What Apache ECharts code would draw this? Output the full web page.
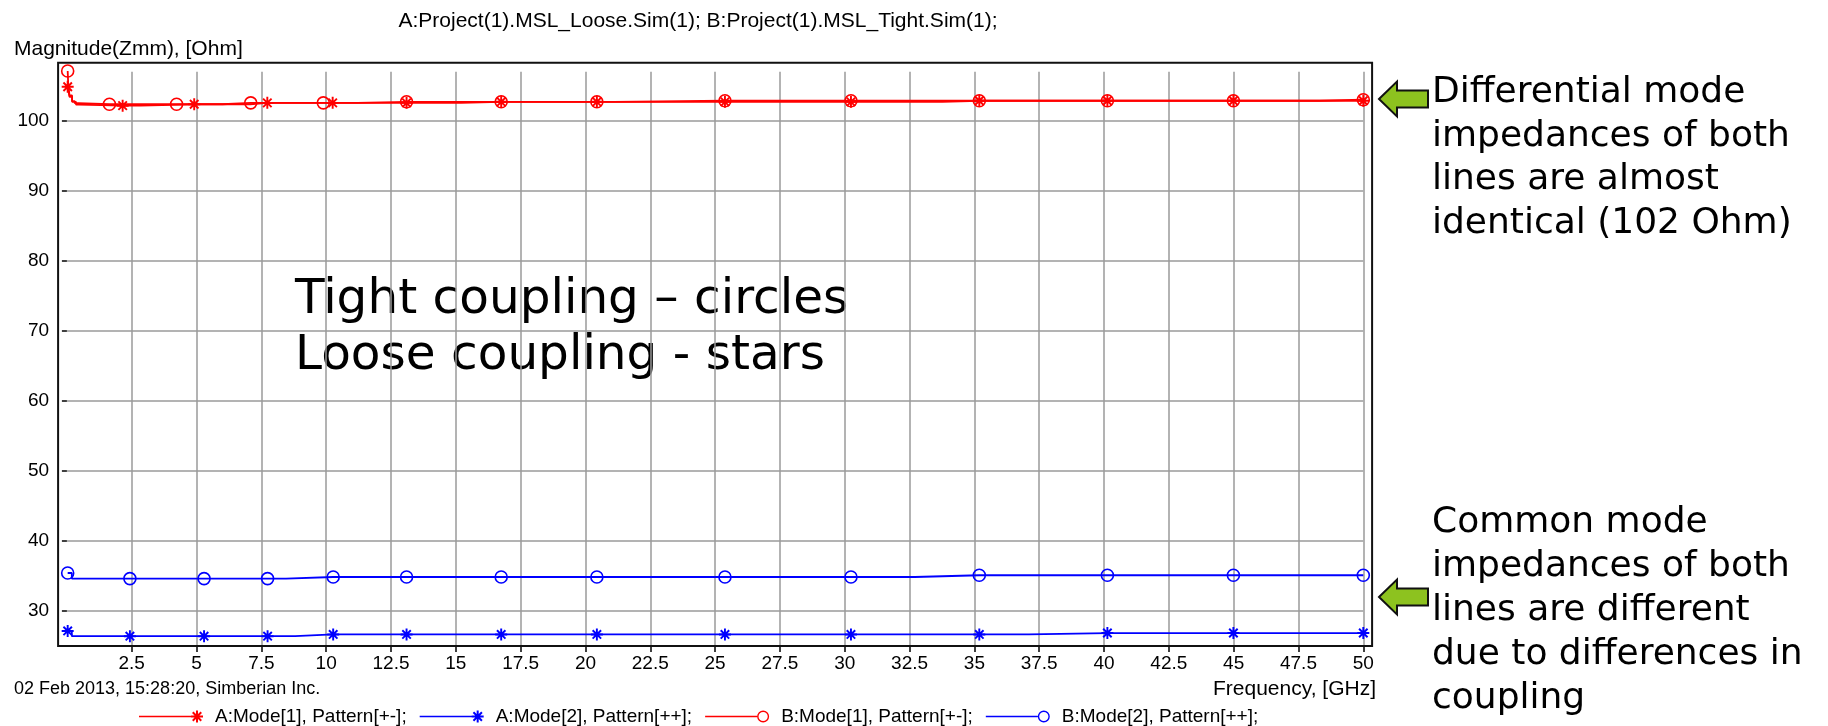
<!DOCTYPE html>
<html><head><meta charset="utf-8">
<script src="https://cdn.jsdelivr.net/npm/echarts@6/dist/echarts.min.js"></script>
<style>html,body{margin:0;padding:0;background:#fff;}#chart{width:1828px;height:726px;}</style>
</head><body><div id="chart"></div>
<script>
// ---------- texts ----------
const chartTitle = 'A:Project(1).MSL_Loose.Sim(1); B:Project(1).MSL_Tight.Sim(1);';
const yAxisName = 'Magnitude(Zmm), [Ohm]';
const xAxisName = 'Frequency, [GHz]';
const footerText = '02 Feb 2013, 15:28:20, Simberian Inc.';
const seriesNames = ['A:Mode[1], Pattern[+-];', 'A:Mode[2], Pattern[++];', 'B:Mode[1], Pattern[+-];', 'B:Mode[2], Pattern[++];'];
const noteMiddle = 'Tight coupling \u2013 circles\nLoose coupling - stars';
const noteTop = 'Differential mode\nimpedances of both\nlines are almost\nidentical (102 Ohm)';
const noteBottom = 'Common mode\nimpedances of both\nlines are different\ndue to differences in\ncoupling';

// ---------- ticks ----------
const xTicks = [2.5, 5, 7.5, 10, 12.5, 15, 17.5, 20, 22.5, 25, 27.5, 30, 32.5, 35, 37.5, 40, 42.5, 45, 47.5, 50];
const yTicks = [30, 40, 50, 60, 70, 80, 90, 100];

// ---------- data (GHz, Ohm); each point starts a new level (step line) ----------
// A:Mode[1] (loose, differential) - stars
const aDiffFreq = [0.03, 0.1, 0.2, 0.35, 0.45, 2.84, 7.07, 15.2, 33.76, 50];
const aDiffOhm  = [104.85, 103.4, 102.7, 102.3, 102.15, 102.35, 102.55, 102.7, 102.85, 102.85];
const aDiffMarkFreq = [0.03, 2.15, 4.91, 7.73, 10.25, 13.1, 16.75, 20.44, 25.38, 30.24, 35.19, 40.13, 44.99, 50];
const aDiffMarkOhm  = [104.85, 102.15, 102.35, 102.55, 102.55, 102.55, 102.7, 102.7, 102.7, 102.7, 102.85, 102.85, 102.85, 102.85];
// A:Mode[2] (loose, common) - stars
const aCommFreq = [0.03, 0.19, 8.8, 37.1, 50];
const aCommOhm  = [27.15, 26.4, 26.65, 26.85, 26.85];
const aCommMarkFreq = [0.03, 2.43, 5.29, 7.74, 10.27, 13.1, 16.75, 20.44, 25.38, 30.24, 35.19, 40.13, 44.99, 50];
const aCommMarkOhm  = [27.15, 26.4, 26.4, 26.4, 26.65, 26.65, 26.65, 26.65, 26.65, 26.65, 26.65, 26.85, 26.85, 26.85];
// B:Mode[1] (tight, differential) - circles
const bDiffFreq = [0.03, 0.05, 0.1, 0.2, 0.3, 0.45, 6.0, 11.2, 21.1, 48.3, 50];
const bDiffOhm  = [107.1, 105.3, 103.6, 102.8, 102.5, 102.35, 102.55, 102.7, 102.85, 103.0, 103.0];
const bDiffMarkFreq = [0.03, 1.64, 4.23, 7.09, 9.89, 13.1, 16.75, 20.44, 25.38, 30.24, 35.19, 40.13, 44.99, 50];
const bDiffMarkOhm  = [107.1, 102.35, 102.35, 102.55, 102.55, 102.7, 102.7, 102.7, 102.85, 102.85, 102.85, 102.85, 102.85, 103.0];
// B:Mode[2] (tight, common) - circles
const bCommFreq = [0.03, 0.19, 8.45, 32.7, 50];
const bCommOhm  = [35.42, 34.62, 34.85, 35.1, 35.1];
const bCommMarkFreq = [0.03, 2.43, 5.29, 7.74, 10.27, 13.1, 16.75, 20.44, 25.38, 30.24, 35.19, 40.13, 44.99, 50];
const bCommMarkOhm  = [35.42, 34.62, 34.62, 34.62, 34.85, 34.85, 34.85, 34.85, 34.85, 34.85, 35.1, 35.1, 35.1, 35.1];

// ---------- styling ----------
const RED = '#ff0000', BLUE = '#0000ff';
const FONT = '"Liberation Sans", Arial, sans-serif';
const NOTE_FONT = '"DejaVu Sans", Verdana, sans-serif';
const G = {left: 66.9, top: 71.7, width: 1296.4, height: 574.3};
const FRAME_PAD = 8.8;

function barPath(cx, cy, L, w, deg) {
  const a = deg * Math.PI / 180, c = Math.cos(a), s = Math.sin(a);
  const pts = [[-w, -L], [w, -L], [w, L], [-w, L]].map(([x, y]) => [cx + x * c - y * s, cy + x * s + y * c]);
  return 'M' + pts.map(p => p[0].toFixed(2) + ' ' + p[1].toFixed(2)).join(' L') + ' Z';
}
function starShape(cx, cy, r, w) { return [0, 45, 90, 135].map(d => barPath(cx, cy, r, w, d)).join(' '); }
const STAR = 'path://' + starShape(10, 10, 10, 1.6);
const LEG_STAR = 'path://M0 5.2 L58 5.2 L58 6.8 L0 6.8 Z ' + starShape(58, 6, 6, 1.0);
const LEG_CIRC = 'path://M0 5.2 L52 5.2 L52 6.8 L0 6.8 Z M52 6 A6 6 0 1 1 64 6 A6 6 0 1 1 52 6 Z M53.4 6 A4.6 4.6 0 1 0 62.6 6 A4.6 4.6 0 1 0 53.4 6 Z';

// merge level points (no symbol) and marker points, ordered by frequency
function buildData(fx, fy, mx, my) {
  const out = [];
  let i = 0, j = 0;
  while (i < fx.length || j < mx.length) {
    if (j >= mx.length || (i < fx.length && fx[i] <= mx[j])) { out.push({value: [fx[i], fy[i]], symbol: 'none'}); i++; }
    else { out.push({value: [mx[j], my[j]]}); j++; }
  }
  return out;
}
function mkSeries(name, color, isStar, data) {
  return {
    name, type: 'line', data, step: 'end', showAllSymbol: true, animation: false, clip: false,
    symbol: isStar ? STAR : 'circle', symbolSize: 12,
    lineStyle: {color, width: 1.8},
    itemStyle: isStar ? {color} : {color: 'rgba(0,0,0,0)', borderColor: color, borderWidth: 1.6},
    emphasis: {disabled: true}
  };
}

const series = [
  mkSeries(seriesNames[0], RED, true, buildData(aDiffFreq, aDiffOhm, aDiffMarkFreq, aDiffMarkOhm)),
  mkSeries(seriesNames[1], BLUE, true, buildData(aCommFreq, aCommOhm, aCommMarkFreq, aCommMarkOhm)),
  mkSeries(seriesNames[2], RED, false, buildData(bDiffFreq, bDiffOhm, bDiffMarkFreq, bDiffMarkOhm)),
  mkSeries(seriesNames[3], BLUE, false, buildData(bCommFreq, bCommOhm, bCommMarkFreq, bCommMarkOhm))
];

function arrow(cy) {
  return {type: 'polygon', z: 100,
    shape: {points: [[1379, cy], [1397, cy - 17.5], [1397, cy - 8.5], [1428, cy - 8.5], [1428, cy + 8.5], [1397, cy + 8.5], [1397, cy + 17.5]]},
    style: {fill: '#8dc21f', stroke: '#111', lineWidth: 2}};
}

const chart = echarts.init(document.getElementById('chart'), null, {renderer: 'canvas'});
chart.setOption({
  backgroundColor: '#fff',
  animation: false,
  grid: {left: G.left, top: G.top, width: G.width, height: G.height, containLabel: false},
  xAxis: {
    type: 'value', min: 0, max: 50,
    axisLine: {show: false},
    axisTick: {show: true, customValues: xTicks, length: 6, lineStyle: {color: '#000', width: 1.5}},
    axisLabel: {customValues: xTicks, margin: 8, fontFamily: FONT, fontSize: 19, color: '#000'},
    splitLine: {show: true, lineStyle: {color: '#9a9a9a', width: 1.5}}
  },
  yAxis: {
    type: 'value', min: 25, max: 107, offset: FRAME_PAD,
    axisLine: {show: false},
    axisTick: {show: true, customValues: yTicks, length: 5, lineStyle: {color: '#000', width: 1.5}},
    axisLabel: {customValues: yTicks, margin: 9, fontFamily: FONT, fontSize: 19, color: '#000'},
    splitLine: {show: true, lineStyle: {color: '#9a9a9a', width: 1.5}}
  },
  legend: {
    left: 134, top: 702, itemWidth: 64, itemHeight: 12, itemGap: 13,
    selectedMode: false,
    textStyle: {fontFamily: FONT, fontSize: 19, color: '#000', padding: [0, 0, 0, 7]},
    data: [
      {name: seriesNames[0], icon: LEG_STAR, itemStyle: {color: RED, borderWidth: 0}},
      {name: seriesNames[1], icon: LEG_STAR, itemStyle: {color: BLUE, borderWidth: 0}},
      {name: seriesNames[2], icon: LEG_CIRC, itemStyle: {color: RED, borderWidth: 0}},
      {name: seriesNames[3], icon: LEG_CIRC, itemStyle: {color: BLUE, borderWidth: 0}}
    ]
  },
  graphic: [
    {type: 'rect', z: 100, silent: true,
      shape: {x: G.left - FRAME_PAD, y: G.top - FRAME_PAD - 0.2, width: G.width + 2 * FRAME_PAD, height: G.height + FRAME_PAD + 0.2},
      style: {fill: 'none', stroke: '#111', lineWidth: 2}},
    {type: 'text', x: 698, y: 21, style: {text: chartTitle, font: '21px ' + FONT, fill: '#000', align: 'center', verticalAlign: 'middle'}},
    {type: 'text', x: 14, y: 49, style: {text: yAxisName, font: '21px ' + FONT, fill: '#000', align: 'left', verticalAlign: 'middle'}},
    {type: 'text', x: 14, y: 689, style: {text: footerText, font: '18px ' + FONT, fill: '#000', align: 'left', verticalAlign: 'middle'}},
    {type: 'text', x: 1376, y: 689, style: {text: xAxisName, font: '21px ' + FONT, fill: '#000', align: 'right', verticalAlign: 'middle'}},
    {type: 'text', x: 295, y: 272, style: {text: noteMiddle, font: '48.5px ' + NOTE_FONT, lineHeight: 56, fill: '#000', align: 'left', verticalAlign: 'top'}},
    {type: 'text', x: 1432, y: 71, style: {text: noteTop, font: '36px ' + NOTE_FONT, lineHeight: 43.5, fill: '#000', align: 'left', verticalAlign: 'top'}},
    {type: 'text', x: 1432, y: 501, style: {text: noteBottom, font: '36px ' + NOTE_FONT, lineHeight: 44, fill: '#000', align: 'left', verticalAlign: 'top'}},
    arrow(99),
    arrow(597)
  ],
  series
});
</script></body></html>
